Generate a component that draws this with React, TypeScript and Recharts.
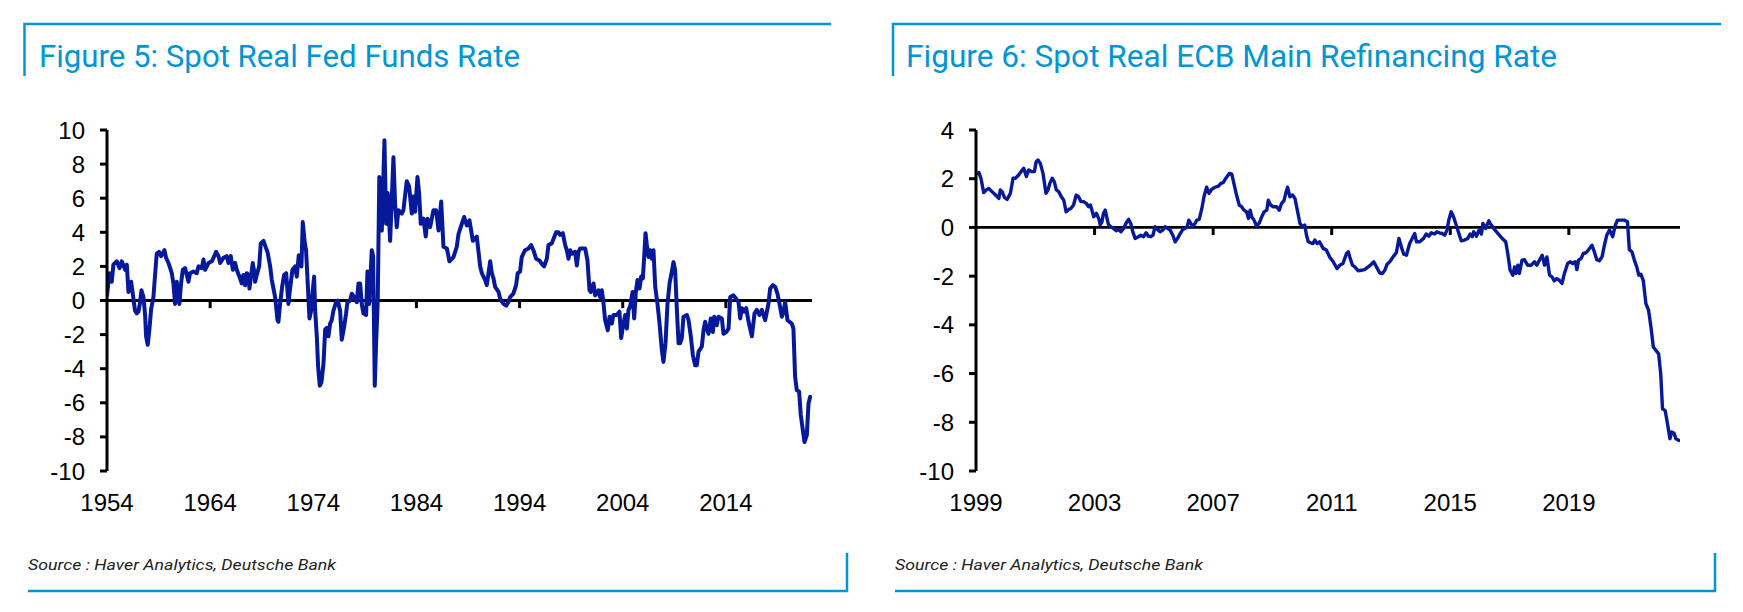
import { LineChart, Line, XAxis, YAxis, ReferenceLine } from 'recharts';

const BLUE = '#0096D6';
const NAVY = '#06199A';
const FONT = '"Liberation Sans", Arial, sans-serif';
const TITLE_FONT = 'Roboto, "Liberation Sans", sans-serif';

const fedXTicks = [1954, 1964, 1974, 1984, 1994, 2004, 2014];
const fedYTicks = [-10, -8, -6, -4, -2, 0, 2, 4, 6, 8, 10];
const ecbXTicks = [1999, 2003, 2007, 2011, 2015, 2019];
const ecbYTicks = [-10, -8, -6, -4, -2, 0, 2, 4];

const fedRate: [number, number][] = [
  [1954.0, 0.3], [1954.24, 1.6], [1954.46, 1.1], [1954.62, 2.1], [1954.95, 2.3], [1955.21, 1.9],
  [1955.43, 2.3], [1955.76, 1.8], [1955.92, 2.1], [1956.08, 0.5], [1956.34, 1.1], [1956.72, -0.6],
  [1956.89, -0.75], [1957.05, -0.65], [1957.21, -0.1], [1957.34, 0.6], [1957.53, 0.2], [1957.69, -0.8],
  [1957.79, -2.1], [1957.95, -2.6], [1958.11, -1.7], [1958.28, -0.5], [1958.5, 0.2], [1958.6, 1.0],
  [1958.82, 2.75], [1959.05, 2.85], [1959.24, 2.6], [1959.57, 2.95], [1959.73, 2.5], [1959.96, 2.2],
  [1960.28, 1.6], [1960.44, 1.0], [1960.6, -0.2], [1960.76, 1.1], [1961.02, -0.2], [1961.18, 1.0],
  [1961.35, 1.8], [1961.57, 1.9], [1961.9, 1.1], [1962.05, 1.6], [1962.38, 1.7], [1962.7, 1.6],
  [1962.87, 2.0], [1963.19, 1.9], [1963.35, 2.4], [1963.51, 1.8], [1963.84, 2.2], [1964.16, 2.3],
  [1964.32, 2.5], [1964.58, 2.85], [1964.81, 2.6], [1964.97, 2.2], [1965.29, 2.5], [1965.61, 2.6],
  [1965.78, 2.2], [1966.0, 2.6], [1966.2, 1.8], [1966.42, 2.2], [1966.58, 1.8], [1966.9, 1.3],
  [1967.06, 1.0], [1967.22, 1.5], [1967.39, 0.9], [1967.55, 1.6], [1967.71, 1.5], [1967.81, 0.7],
  [1967.94, 1.3], [1968.13, 2.2], [1968.3, 1.6], [1968.36, 1.1], [1968.52, 1.5], [1968.75, 2.0],
  [1968.91, 3.35], [1969.17, 3.5], [1969.4, 3.1], [1969.56, 2.85], [1969.82, 2.0], [1969.98, 1.2],
  [1970.3, 0.2], [1970.53, -1.15], [1970.62, -1.25], [1970.78, -0.2], [1970.98, 0.8], [1971.17, 1.5],
  [1971.37, 1.6], [1971.59, -0.2], [1971.75, 0.7], [1971.98, 1.8], [1972.24, 2.0], [1972.4, 1.4],
  [1972.59, 2.65], [1972.72, 2.6], [1972.85, 2.0], [1972.98, 4.6], [1973.18, 3.35], [1973.3, 2.95],
  [1973.46, 1.0], [1973.63, -1.05], [1973.79, -0.6], [1973.95, 0.6], [1974.08, 1.4], [1974.18, -0.6],
  [1974.34, -2.1], [1974.47, -3.9], [1974.63, -5.0], [1974.79, -4.8], [1974.99, -3.7], [1975.15, -1.7],
  [1975.31, -1.6], [1975.47, -2.1], [1975.63, -1.35], [1975.79, -1.15], [1975.95, -0.6], [1976.21, -0.1],
  [1976.37, 0.0], [1976.6, -0.6], [1976.76, -2.3], [1976.99, -1.55], [1977.18, -0.75], [1977.31, -0.1],
  [1977.57, 0.0], [1977.73, 0.4], [1977.96, 0.2], [1978.22, -0.1], [1978.38, 1.0], [1978.54, 1.0],
  [1978.7, -0.2], [1978.86, -0.75], [1979.12, -0.85], [1979.25, 1.7], [1979.41, -0.2], [1979.67, 2.95],
  [1979.8, 2.6], [1979.96, -5.0], [1980.09, -2.5], [1980.25, 0.0], [1980.4, 7.25], [1980.64, 4.1],
  [1980.9, 9.4], [1981.06, 4.5], [1981.22, 6.3], [1981.45, 3.5], [1981.77, 8.4], [1981.93, 5.7],
  [1982.09, 4.3], [1982.25, 5.3], [1982.58, 5.1], [1982.74, 5.3], [1983.06, 7.0], [1983.29, 6.7],
  [1983.55, 5.1], [1983.71, 6.1], [1983.87, 5.2], [1984.1, 7.25], [1984.26, 6.3], [1984.42, 4.5],
  [1984.68, 4.8], [1984.9, 3.75], [1985.07, 4.8], [1985.33, 4.3], [1985.65, 5.3], [1985.91, 5.3],
  [1986.14, 4.1], [1986.4, 5.8], [1986.62, 3.15], [1986.95, 3.05], [1987.2, 2.3], [1987.59, 2.55],
  [1987.91, 3.15], [1988.08, 3.9], [1988.4, 4.5], [1988.63, 4.9], [1988.88, 4.4], [1989.14, 4.7],
  [1989.47, 3.5], [1989.85, 3.75], [1990.18, 2.0], [1990.34, 1.6], [1990.66, 1.2], [1990.82, 0.9],
  [1991.15, 2.3], [1991.31, 1.6], [1991.47, 1.3], [1991.63, 0.8], [1991.96, 0.5], [1992.12, 0.1],
  [1992.44, -0.2], [1992.7, -0.3], [1992.92, -0.1], [1993.08, 0.2], [1993.4, 0.4], [1993.66, 0.9],
  [1993.82, 1.6], [1994.05, 1.7], [1994.21, 2.55], [1994.53, 2.95], [1994.86, 3.05], [1995.12, 3.25],
  [1995.34, 2.95], [1995.6, 2.45], [1995.92, 2.35], [1996.15, 2.15], [1996.38, 2.0], [1996.64, 2.45],
  [1996.8, 3.25], [1997.12, 3.35], [1997.54, 4.0], [1997.77, 4.0], [1997.93, 3.85], [1998.19, 3.95],
  [1998.42, 3.25], [1998.58, 2.95], [1998.74, 2.45], [1998.9, 2.95], [1999.06, 2.75], [1999.39, 2.85],
  [1999.55, 2.05], [1999.71, 2.85], [1999.87, 3.05], [2000.36, 3.05], [2000.58, 2.35], [2000.78, 0.6],
  [2000.91, 0.5], [2001.17, 1.0], [2001.33, 0.3], [2001.65, 0.6], [2001.81, 0.2], [2001.97, 0.6],
  [2002.13, -0.1], [2002.29, -1.15], [2002.55, -1.75], [2002.72, -0.95], [2002.94, -1.35], [2003.1, -0.85],
  [2003.43, -0.85], [2003.68, -0.65], [2003.85, -2.2], [2004.01, -1.55], [2004.24, -0.85], [2004.4, -1.65],
  [2004.56, -0.55], [2004.72, -0.35], [2004.95, 0.5], [2005.11, -1.05], [2005.27, 0.5], [2005.43, 1.2],
  [2005.63, 0.7], [2005.79, 1.4], [2005.95, 1.3], [2006.08, 2.55], [2006.21, 3.95], [2006.34, 3.25],
  [2006.5, 2.55], [2006.66, 2.95], [2006.82, 2.45], [2006.98, 2.95], [2007.15, 0.8], [2007.37, -0.2],
  [2007.57, -1.35], [2007.79, -2.9], [2007.95, -3.6], [2008.15, -2.5], [2008.34, -0.2], [2008.54, 1.0],
  [2008.76, 1.7], [2008.92, 2.25], [2009.08, 1.8], [2009.25, -0.55], [2009.41, -2.5], [2009.57, -2.5],
  [2009.73, -2.2], [2009.89, -0.95], [2010.22, -0.85], [2010.38, -1.15], [2010.6, -2.1], [2010.8, -3.2],
  [2011.02, -3.8], [2011.18, -3.8], [2011.35, -3.0], [2011.67, -2.7], [2011.83, -1.75], [2011.99, -1.25],
  [2012.15, -1.65], [2012.32, -1.95], [2012.54, -1.05], [2012.74, -1.85], [2012.87, -0.95], [2013.12, -1.45],
  [2013.29, -0.95], [2013.61, -1.05], [2013.77, -1.95], [2014.03, -1.85], [2014.26, -1.65], [2014.42, 0.2],
  [2014.74, 0.3], [2015.0, 0.1], [2015.23, -0.1], [2015.39, -1.05], [2015.55, -0.45], [2015.78, -0.65],
  [2015.97, -0.45], [2016.2, -1.25], [2016.52, -2.1], [2016.78, -0.75], [2017.0, -0.55], [2017.26, -0.85],
  [2017.49, -0.55], [2017.81, -1.15], [2018.13, -0.2], [2018.29, 0.7], [2018.55, 0.9], [2018.78, 0.8],
  [2019.0, 0.4], [2019.2, -0.2], [2019.43, -0.95], [2019.59, -0.65], [2019.75, -0.1], [2019.97, -1.15],
  [2020.17, -1.25], [2020.39, -1.35], [2020.55, -1.65], [2020.71, -4.45], [2020.87, -5.25], [2021.1, -5.35],
  [2021.26, -6.7], [2021.46, -7.6], [2021.62, -8.3], [2021.85, -7.9], [2022.01, -6.05], [2022.17, -5.65],
];

const ecbRate: [number, number][] = [
  [1999.02, 2.22], [1999.1, 2.25], [1999.17, 2.0], [1999.26, 1.43], [1999.35, 1.54], [1999.43, 1.6],
  [1999.54, 1.47], [1999.66, 1.33], [1999.77, 1.19], [1999.82, 1.54], [1999.88, 1.47], [1999.96, 1.23],
  [2000.05, 1.15], [2000.16, 1.4], [2000.25, 2.02], [2000.33, 2.02], [2000.44, 2.15], [2000.52, 2.29],
  [2000.61, 2.43], [2000.7, 2.09], [2000.78, 2.36], [2000.89, 2.29], [2000.97, 2.29], [2001.03, 2.7],
  [2001.09, 2.77], [2001.17, 2.63], [2001.26, 2.22], [2001.36, 1.4], [2001.43, 1.54], [2001.49, 1.81],
  [2001.57, 2.02], [2001.64, 1.88], [2001.71, 1.54], [2001.79, 1.47], [2001.88, 1.26], [2001.96, 1.12],
  [2002.04, 0.64], [2002.13, 0.74], [2002.2, 0.78], [2002.29, 0.92], [2002.38, 1.33], [2002.46, 1.26],
  [2002.54, 1.06], [2002.63, 1.06], [2002.72, 0.99], [2002.8, 0.85], [2002.86, 0.92], [2002.91, 0.71],
  [2002.97, 0.44], [2003.06, 0.58], [2003.14, 0.37], [2003.19, 0.1], [2003.25, 0.23], [2003.3, 0.58],
  [2003.36, 0.71], [2003.42, 0.37], [2003.47, 0.1], [2003.55, 0.03], [2003.64, -0.04], [2003.73, -0.14],
  [2003.81, -0.08], [2003.89, -0.18], [2003.98, -0.04], [2004.07, 0.19], [2004.15, 0.33], [2004.22, 0.16],
  [2004.29, -0.18], [2004.37, -0.45], [2004.48, -0.38], [2004.56, -0.32], [2004.65, -0.38], [2004.74, -0.22],
  [2004.82, -0.36], [2004.9, -0.38], [2004.97, -0.32], [2005.04, 0.03], [2005.12, -0.08], [2005.21, -0.18],
  [2005.3, -0.11], [2005.38, 0.03], [2005.46, -0.04], [2005.55, -0.11], [2005.64, -0.32], [2005.72, -0.59],
  [2005.8, -0.45], [2005.89, -0.25], [2005.98, -0.08], [2006.06, -0.04], [2006.13, 0.05], [2006.18, 0.3],
  [2006.25, 0.16], [2006.31, 0.03], [2006.39, 0.16], [2006.45, 0.3], [2006.53, 0.33], [2006.62, 0.78],
  [2006.69, 1.26], [2006.78, 1.65], [2006.86, 1.4], [2006.95, 1.56], [2007.06, 1.65], [2007.18, 1.7],
  [2007.26, 1.81], [2007.34, 1.84], [2007.43, 2.02], [2007.55, 2.22], [2007.63, 2.19], [2007.7, 1.81],
  [2007.79, 1.33], [2007.88, 0.92], [2007.96, 0.85], [2008.04, 0.71], [2008.13, 0.64], [2008.19, 0.37],
  [2008.25, 0.71], [2008.3, 0.44], [2008.38, 0.3], [2008.47, 0.05], [2008.56, 0.19], [2008.64, 0.44],
  [2008.72, 0.64], [2008.81, 0.71], [2008.86, 1.12], [2008.94, 0.92], [2009.03, 0.85], [2009.14, 0.85],
  [2009.23, 0.71], [2009.31, 0.99], [2009.39, 1.1], [2009.45, 1.4], [2009.51, 1.65], [2009.59, 1.26],
  [2009.68, 1.33], [2009.76, 1.19], [2009.84, 0.71], [2009.93, 0.16], [2010.02, 0.03], [2010.09, 0.1],
  [2010.15, -0.32], [2010.21, -0.59], [2010.29, -0.63], [2010.37, -0.66], [2010.43, -0.52], [2010.51, -0.66],
  [2010.59, -0.59], [2010.71, -0.86], [2010.82, -0.93], [2010.93, -1.21], [2011.05, -1.41], [2011.18, -1.69],
  [2011.27, -1.55], [2011.38, -1.48], [2011.5, -1.07], [2011.56, -1.0], [2011.61, -1.21], [2011.7, -1.55],
  [2011.78, -1.62], [2011.89, -1.78], [2012.0, -1.76], [2012.11, -1.73], [2012.23, -1.62], [2012.34, -1.51],
  [2012.42, -1.41], [2012.51, -1.62], [2012.62, -1.87], [2012.71, -1.89], [2012.79, -1.76], [2012.87, -1.51],
  [2012.96, -1.41], [2013.07, -1.21], [2013.18, -1.04], [2013.27, -0.45], [2013.35, -0.8], [2013.43, -1.1],
  [2013.52, -1.14], [2013.63, -0.66], [2013.8, -0.25], [2013.86, -0.59], [2013.97, -0.59], [2014.1, -0.45],
  [2014.19, -0.27], [2014.28, -0.36], [2014.36, -0.22], [2014.47, -0.27], [2014.55, -0.18], [2014.63, -0.22],
  [2014.73, -0.25], [2014.81, -0.32], [2014.89, -0.11], [2014.95, 0.3], [2015.03, 0.64], [2015.11, 0.44],
  [2015.2, 0.1], [2015.29, -0.25], [2015.37, -0.55], [2015.48, -0.52], [2015.59, -0.45], [2015.67, -0.27],
  [2015.74, -0.38], [2015.79, -0.18], [2015.88, -0.36], [2015.97, -0.11], [2016.05, -0.27], [2016.1, 0.16],
  [2016.19, -0.04], [2016.3, 0.27], [2016.38, 0.1], [2016.49, -0.08], [2016.61, -0.25], [2016.72, -0.41],
  [2016.87, -0.59], [2016.94, -1.07], [2017.02, -1.76], [2017.11, -1.96], [2017.17, -1.62], [2017.22, -1.89],
  [2017.28, -1.55], [2017.33, -1.89], [2017.42, -1.34], [2017.5, -1.32], [2017.61, -1.55], [2017.73, -1.55],
  [2017.84, -1.41], [2017.92, -1.55], [2018.01, -1.34], [2018.1, -1.14], [2018.18, -1.55], [2018.26, -1.21],
  [2018.35, -1.96], [2018.43, -2.03], [2018.51, -2.19], [2018.59, -2.1], [2018.68, -2.17], [2018.77, -2.3],
  [2018.85, -1.89], [2018.96, -1.48], [2019.04, -1.41], [2019.13, -1.48], [2019.22, -1.41], [2019.27, -1.73],
  [2019.33, -1.34], [2019.41, -1.28], [2019.49, -1.07], [2019.58, -1.04], [2019.67, -0.91], [2019.78, -0.73],
  [2019.86, -1.0], [2019.94, -1.32], [2020.03, -1.37], [2020.12, -1.21], [2020.2, -0.73], [2020.28, -0.32],
  [2020.37, -0.11], [2020.42, -0.22], [2020.48, -0.38], [2020.57, 0.1], [2020.64, 0.3], [2020.76, 0.3],
  [2020.87, 0.3], [2020.98, 0.23], [2021.04, -0.91], [2021.13, -1.0], [2021.21, -1.34], [2021.29, -1.62],
  [2021.36, -1.96], [2021.43, -1.92], [2021.51, -2.17], [2021.6, -3.13], [2021.69, -3.4], [2021.77, -4.09],
  [2021.85, -4.91], [2021.94, -5.05], [2022.03, -5.19], [2022.1, -6.01], [2022.16, -7.45], [2022.25, -7.52],
  [2022.33, -8.07], [2022.41, -8.68], [2022.47, -8.4], [2022.55, -8.45], [2022.61, -8.68], [2022.72, -8.75],
];

type ChartProps = {
  series: [number, number][];
  left: number;
  width: number;
  axisWidth: number;
  marginRight: number;
  xDomain: [number, number];
  xTicks: number[];
  yDomain: [number, number];
  yTicks: number[];
  tickDepth: number;
  lineWidth: number;
};

function RateChart({
  series,
  left,
  width,
  axisWidth,
  marginRight,
  xDomain,
  xTicks,
  yDomain,
  yTicks,
  tickDepth,
  lineWidth,
}: ChartProps) {
  const data = series.map(([t, v]) => ({ t, v }));
  const tickStyle = { fontSize: 24, fill: '#000', fontFamily: FONT };
  return (
    <div style={{ position: 'absolute', left, top: 0 }}>
      <LineChart width={width} height={612} data={data} margin={{ top: 130, right: marginRight, bottom: 101, left: 0 }}>
        <XAxis
          dataKey="t"
          type="number"
          domain={xDomain}
          ticks={xTicks}
          interval={0}
          allowDataOverflow
          axisLine={false}
          tickLine={false}
          tickSize={8}
          tickMargin={15}
          height={40}
          tick={tickStyle}
        />
        <YAxis
          type="number"
          domain={yDomain}
          ticks={yTicks}
          interval={0}
          allowDataOverflow
          width={axisWidth}
          axisLine={{ stroke: '#000', strokeWidth: 3 }}
          tickLine={{ stroke: '#000', strokeWidth: 3 }}
          tickSize={7}
          tickMargin={15}
          tick={tickStyle}
        />
        <ReferenceLine y={0} stroke="#000" strokeWidth={2.8} />
        {xTicks.slice(1).map((yr) => (
          <ReferenceLine
            key={yr}
            segment={[
              { x: yr, y: 0 },
              { x: yr, y: -tickDepth },
            ]}
            stroke="#000"
            strokeWidth={3}
          />
        ))}
        <Line
          type="linear"
          dataKey="v"
          stroke={NAVY}
          strokeWidth={lineWidth}
          strokeLinejoin="round"
          strokeLinecap="round"
          dot={false}
          activeDot={false}
          isAnimationActive={false}
        />
      </LineChart>
    </div>
  );
}

export default function App() {
  return (
    <div style={{ position: 'absolute', left: 0, top: 0, width: 1743, height: 612, background: '#fff' }}>
      <svg width={1743} height={612} style={{ position: 'absolute', left: 0, top: 0 }}>
        <g stroke={BLUE} strokeWidth={2.5} fill="none">
          <polyline points="24.5,76 24.5,24 831,24" />
          <polyline points="28,591 847,591 847,553" />
          <polyline points="893,76 893,24 1721,24" />
          <polyline points="895,591 1715,591 1715,553" />
        </g>
        <text x={39} y={66.5} fontSize={30.5} fill={BLUE} fontFamily={TITLE_FONT} textLength={481} lengthAdjust="spacingAndGlyphs">
          Figure 5: Spot Real Fed Funds Rate
        </text>
        <text x={906} y={66.5} fontSize={30.5} fill={BLUE} fontFamily={TITLE_FONT} textLength={651} lengthAdjust="spacingAndGlyphs">
          Figure 6: Spot Real ECB Main Refinancing Rate
        </text>
        <text x={28} y={569.5} fontSize={15.5} fontStyle="italic" fill="#222" fontFamily={TITLE_FONT} textLength={308} lengthAdjust="spacingAndGlyphs">
          Source : Haver Analytics, Deutsche Bank
        </text>
        <text x={895} y={569.5} fontSize={15.5} fontStyle="italic" fill="#222" fontFamily={TITLE_FONT} textLength={308} lengthAdjust="spacingAndGlyphs">
          Source : Haver Analytics, Deutsche Bank
        </text>
      </svg>
      <RateChart
        series={fedRate}
        left={0}
        width={870}
        axisWidth={107}
        marginRight={58}
        xDomain={[1954, 2022.35]}
        xTicks={fedXTicks}
        yDomain={[-10, 10]}
        yTicks={fedYTicks}
        tickDepth={0.45}
        lineWidth={4}
      />
      <RateChart
        series={ecbRate}
        left={870}
        width={873}
        axisWidth={106}
        marginRight={63}
        xDomain={[1999, 2022.75]}
        xTicks={ecbXTicks}
        yDomain={[-10, 4]}
        yTicks={ecbYTicks}
        tickDepth={0.31}
        lineWidth={3.4}
      />
    </div>
  );
}
